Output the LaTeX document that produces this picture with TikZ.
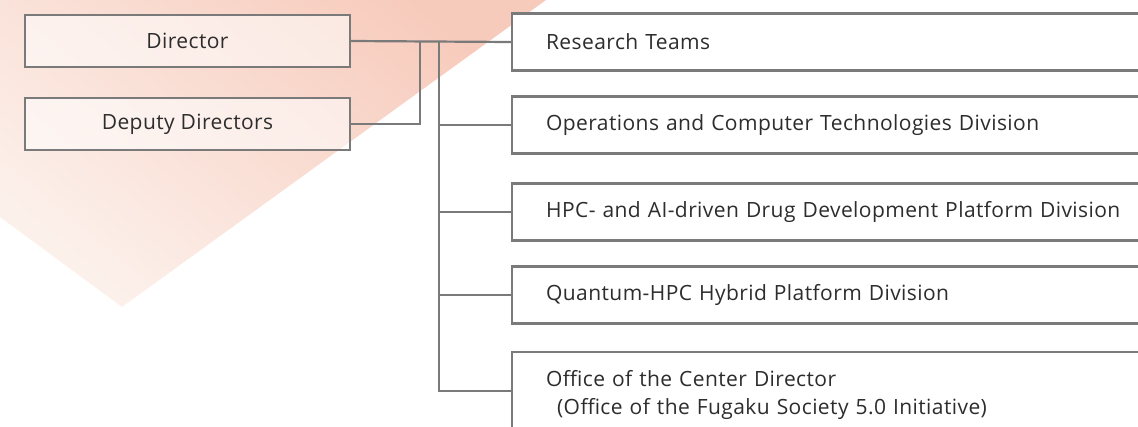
\documentclass[tikz,border=0pt]{standalone}
\usepackage{fontspec}
\setmainfont{Open Sans}[LetterSpace=2]
\usetikzlibrary{positioning}

\definecolor{linegray}{RGB}{122,122,122}
\definecolor{textgray}{RGB}{45,45,45}
\definecolor{salmon}{RGB}{247,203,188}
\definecolor{blush}{RGB}{252,240,235}

\begin{document}
\begin{tikzpicture}[x=1pt,y=-1pt,
    link/.style={draw=linegray,line width=2.2pt},
    headbox/.style={draw=linegray,line width=2.2pt,fill=white,fill opacity=0.55,
      text opacity=1,text=textgray,minimum width=325pt,minimum height=52pt,
      font=\fontsize{21}{25}\selectfont},
    unitbox/.style={draw=linegray,line width=2.2pt,fill=white,anchor=west,
      minimum height=57pt,text width=640pt,inner xsep=34pt,align=left,
      text=textgray,font=\fontsize{21}{28}\selectfont}]

  \clip (0,0) rectangle (1138,426);

  % background wedge
  \shade[top color=salmon,bottom color=blush,shading angle=-40]
    (0,0) -- (546,0) -- (122,307) -- (0,217) -- cycle;

  \node[headbox] (dir) at (187.5,41) {Director};
  \node[headbox] (dep) at (187.5,124) {Deputy Directors};

  \node[unitbox] (teams) at (511,42) {Research Teams};
  \node[unitbox] (ops) at (511,125) {Operations and Computer Technologies Division};
  \node[unitbox] (drug) at (511,212) {HPC- and AI-driven Drug Development Platform Division};
  \node[unitbox] (quantum) at (511,295) {Quantum-HPC Hybrid Platform Division};
  \node[unitbox,minimum height=86pt] (office) at (511,395)
    {Office of the Center Director\\\hspace*{11pt}(Office of the Fugaku Society 5.0 Initiative)};

  \coordinate (split) at (420,42);
  \coordinate (bus) at (439,42);

  \draw[link] (dir.east) -- (teams.west);
  \draw[link] (dep.east) -| (split);
  \draw[link] (bus) |- ([yshift=4pt]office.west);
  \foreach \n in {ops,drug,quantum}
    \draw[link] (bus |- \n.west) -- (\n.west);

\end{tikzpicture}
\end{document}
